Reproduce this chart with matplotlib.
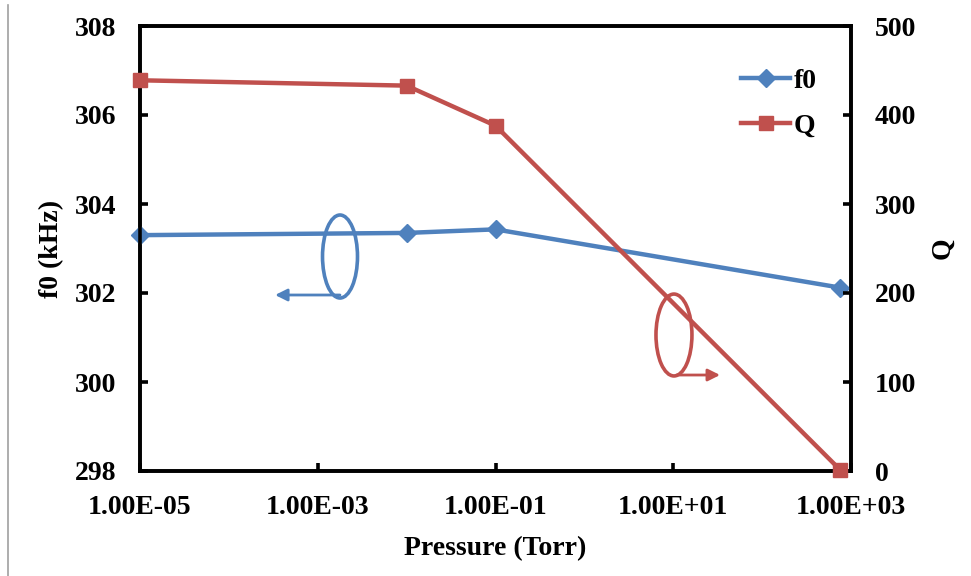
import matplotlib
matplotlib.use('Agg')
import matplotlib.pyplot as plt
import matplotlib.ticker as ticker
from matplotlib.patches import Ellipse
from matplotlib.lines import Line2D

# resonance frequency and quality factor vs. chamber pressure
pressure = [1e-5, 1e-2, 1e-1, 760]
f0 = [303.30, 303.35, 303.43, 302.12]
Q = [439, 433, 388, 1]

xticks = [1e-5, 1e-3, 1e-1, 1e1, 1e3]
xticklabels = ['1.00E-05', '1.00E-03', '1.00E-01', '1.00E+01', '1.00E+03']

plt.rcParams['font.family'] = 'Liberation Serif'
plt.rcParams['font.weight'] = 'bold'
plt.rcParams['font.size'] = 20

blue = '#4F81BD'
red = '#C0504D'

fig = plt.figure(figsize=(9.71, 5.76), dpi=100)
ax1 = fig.add_axes([140/971, 1 - 471/576, 711/971, 445/576])
ax2 = ax1.twinx()

l1, = ax1.plot(pressure, f0, color=blue, lw=3.2, marker='D', ms=9.5,
               clip_on=False, zorder=3, label='f0')
l2, = ax2.plot(pressure, Q, color=red, lw=3.2, marker='s', ms=10.5,
               clip_on=False, zorder=3, label='Q')

ax1.set_xscale('log')
ax1.set_xlim(1e-5, 1e3)
ax1.xaxis.set_major_locator(ticker.FixedLocator(xticks))
ax1.xaxis.set_minor_locator(ticker.NullLocator())
ax1.set_xticklabels(xticklabels)

ax1.set_ylim(298, 308)
ax1.set_yticks(range(298, 309, 2))
ax2.set_ylim(0, 500)
ax2.set_yticks(range(0, 501, 100))

for a in (ax1, ax2):
    for s in a.spines.values():
        s.set_linewidth(2.6)
    a.tick_params(direction='in', length=6, width=2.6, pad=17)

ax1.set_xlabel('Pressure (Torr)', fontweight='bold', labelpad=12)
ax1.set_ylabel('f0 (kHz)', fontweight='bold', labelpad=8)
ax2.set_ylabel('Q', fontweight='bold', labelpad=10)

ax2.legend([l1, l2], ['f0', 'Q'], loc='upper left',
           bbox_to_anchor=(0.83, 0.93), frameon=False,
           handlelength=1.75, handletextpad=0.15, labelspacing=0.7,
           borderaxespad=0)

# loops with arrows pointing to the matching axis
ax2.add_patch(Ellipse((0.2813, 0.482), 0.0492, 0.1865, transform=ax1.transAxes,
                      fill=False, ec=blue, lw=2.6, zorder=4))
ax2.annotate('', xy=(0.19, 0.3955), xytext=(0.2813, 0.3955),
             xycoords=ax1.transAxes, textcoords=ax1.transAxes,
             arrowprops=dict(arrowstyle='-|>', color=blue, lw=2,
                             mutation_scale=18, shrinkA=0, shrinkB=0))

ax2.add_patch(Ellipse((0.751, 0.3056), 0.0506, 0.184, transform=ax1.transAxes,
                      fill=False, ec=red, lw=2.6, zorder=4))
ax2.annotate('', xy=(0.8158, 0.2157), xytext=(0.755, 0.2157),
             xycoords=ax1.transAxes, textcoords=ax1.transAxes,
             arrowprops=dict(arrowstyle='-|>', color=red, lw=2,
                             mutation_scale=18, shrinkA=0, shrinkB=0))

# thin border line on the left edge
fig.add_artist(Line2D([8/971, 8/971], [0, 1 - 5/576], color='#A0A0A0', lw=1.2))

fig.savefig('out.png', dpi=100)
